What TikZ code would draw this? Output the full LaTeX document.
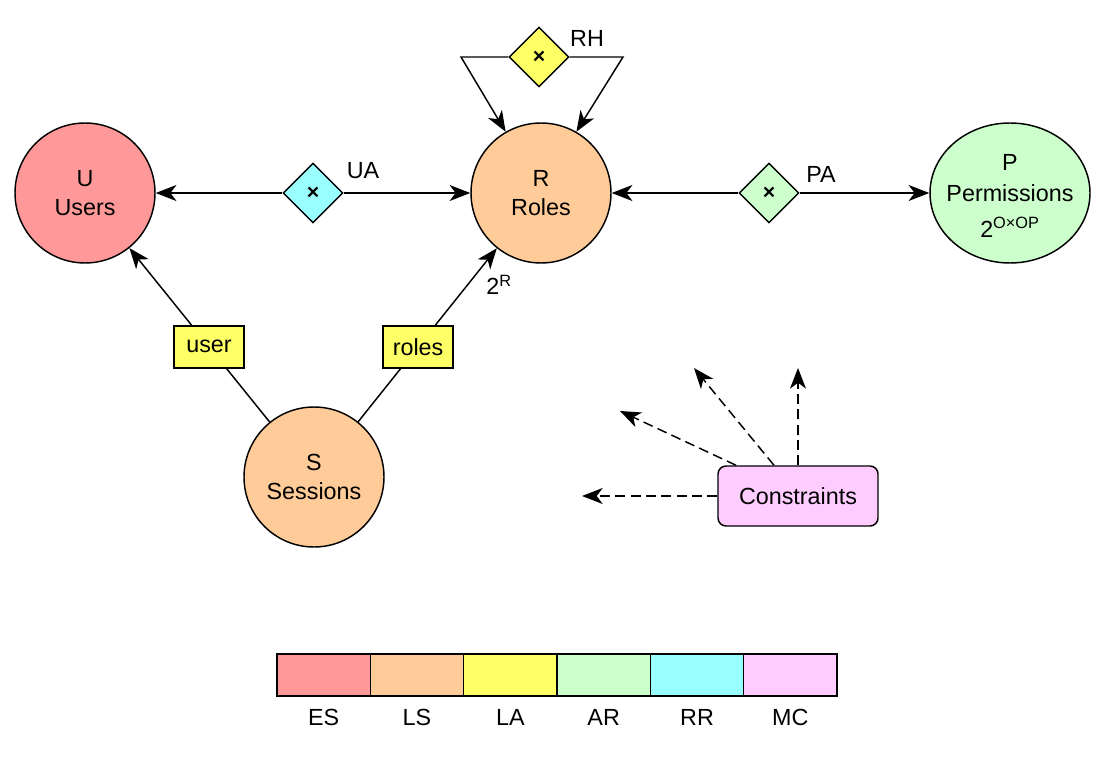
\documentclass[tikz,border=0pt]{standalone}
\usepackage{fontspec}
\setmainfont{Liberation Sans}
\usetikzlibrary{shapes.geometric, arrows.meta, calc}
\definecolor{esred}{HTML}{FF9999}
\definecolor{lsorange}{HTML}{FFCC99}
\definecolor{layellow}{HTML}{FFFF66}
\definecolor{argreen}{HTML}{CCFFCC}
\definecolor{rrcyan}{HTML}{99FFFF}
\definecolor{mcpink}{HTML}{FFCCFF}
\begin{document}
\begin{tikzpicture}[x=0.75pt, y=-0.75pt, line width=1.1pt,
  font=\fontsize{17.5}{22}\selectfont,
  >={Stealth[length=15.5pt,width=12pt,inset=4.5pt]},
  entity/.style={circle, draw, minimum size=105pt, inner sep=0pt, align=center},
  rel/.style={diamond, draw, minimum width=45pt, minimum height=45pt, inner sep=0pt,
    font=\fontsize{16}{18}\selectfont\bfseries},
  fnbox/.style={rectangle, draw, fill=layellow, minimum width=52.5pt, minimum height=31.5pt, inner sep=0pt},
  cons/.style={dash pattern=on 7.5pt off 4pt, ->},
  swatch/.style={rectangle, draw, minimum width=70pt, minimum height=31.5pt, inner sep=0pt}
]
\useasboundingbox (0,0) rectangle (1110,784);

% main entity sets
\node[entity, fill=esred] (U) at (85,193) {U\\Users};
\node[entity, fill=lsorange] (R) at (541,193) {R\\Roles};
\node[entity, fill=lsorange] (S) at (314,477) {S\\Sessions};
\node[ellipse, draw, fill=argreen, minimum width=120pt, minimum height=105pt, inner sep=0pt] (P) at (1010,193) {};
\node[align=center, inner sep=0pt] (Ptext) at ([yshift=-2pt]P.center) {P\\[1pt]Permissions\\[5pt]2\textsuperscript{O×OP}};

% relations
\node[rel, fill=rrcyan] (UA) at (313,193) {×};
\node[rel, fill=argreen] (PA) at (769,193) {×};
\node[rel, fill=layellow] (RH) at (539,57) {×};
\node (UAl) at (363,171) {UA};
\node (PAl) at (821,174) {PA};
\node (RHl) at (587,38) {RH};

\draw[->] (UA) -- (U);
\draw[->] (UA) -- (R);
\draw[->] (PA) -- (R);
\draw[->] (PA) -- (P);

% role hierarchy loop
\coordinate (rhL) at (461,57);
\coordinate (rhR) at (623,57);
\draw[->] (RH.west) -- (rhL) -- (R.120);
\draw[->] (RH.east) -- (rhR) -- (R.60);

% session functions
\node[fnbox] (ubox) at ($(S)!0.4585!(U)$) {user};
\node[fnbox] (rbox) at ($(S)!0.4585!(R)$) {roles};
\draw (S) -- (ubox);
\draw[->] (ubox) -- (U);
\draw (S) -- (rbox);
\draw[->] (rbox) -- (R);
\node (twoR) at (499,285) {2\textsuperscript{R}};

% constraints
\node[rectangle, rounded corners=6pt, draw, fill=mcpink, minimum width=120pt, minimum height=45pt] (C) at (798,496) {Constraints};
\coordinate (c1) at (582,496);
\coordinate (c2) at (620,411);
\coordinate (c3) at (694,368);
\coordinate (c4) at (798,368);
\draw[cons] (C.west) -- (c1);
\draw[cons] ($(C.north)+(-62,0)$) -- (c2);
\draw[cons] ($(C.north)+(-24,0)$) -- (c3);
\draw[cons] (C.north) -- (c4);

% legend
\node[swatch, fill=esred]    (l1) at (323.67,675) {};
\node[swatch, fill=lsorange] (l2) at (417.00,675) {};
\node[swatch, fill=layellow] (l3) at (510.33,675) {};
\node[swatch, fill=argreen]  (l4) at (603.67,675) {};
\node[swatch, fill=rrcyan]   (l5) at (697.00,675) {};
\node[swatch, fill=mcpink]   (l6) at (790.33,675) {};
\node (t1) at (323.67,717) {ES};
\node (t2) at (417.00,717) {LS};
\node (t3) at (510.33,717) {LA};
\node (t4) at (603.67,717) {AR};
\node (t5) at (697.00,717) {RR};
\node (t6) at (790.33,717) {MC};
\end{tikzpicture}
\end{document}
